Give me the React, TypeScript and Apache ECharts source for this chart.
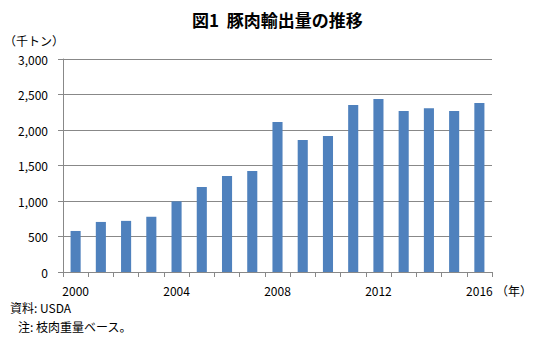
import React, { useEffect, useRef } from "react";
import * as echarts from "echarts";

const years = ["2000","2001","2002","2003","2004","2005","2006","2007","2008","2009","2010","2011","2012","2013","2014","2015","2016"];
const exportsKt = [578, 705, 720, 778, 995, 1198, 1352, 1424, 2112, 1858, 1915, 2352, 2438, 2266, 2308, 2266, 2380];
const yTicks = { min: 0, max: 3000, interval: 500 };

const FONT = "'Noto Sans CJK JP', 'Noto Sans', sans-serif";

export default function App() {
  const ref = useRef<HTMLDivElement>(null);
  useEffect(() => {
    document.body.style.margin = "0";
    const chart = echarts.init(ref.current!, null, { renderer: "svg" });
    chart.setOption({
      animation: false,
      backgroundColor: "#fff",
      textStyle: { fontFamily: FONT },
      title: {
        text: "図1\u00a0\u00a0豚肉輸出量の推移",
        left: 187,
        top: 6,
        textStyle: { fontSize: 17, fontWeight: "bold", color: "#000", fontFamily: FONT },
      },
      grid: { left: 63, right: 51, top: 59, bottom: 77 },
      xAxis: {
        type: "category",
        data: years,
        boundaryGap: true,
        axisLine: { lineStyle: { color: "#888", width: 1 } },
        axisTick: { show: true, interval: 0, length: 5, lineStyle: { color: "#888" } },
        axisLabel: { interval: 3, margin: 12, fontSize: 12, color: "#000", fontFamily: FONT },
      },
      yAxis: {
        type: "value",
        min: yTicks.min,
        max: yTicks.max,
        interval: yTicks.interval,
        axisLine: { show: true, lineStyle: { color: "#888", width: 1 } },
        axisTick: { show: true, length: 5, lineStyle: { color: "#888" } },
        splitLine: { lineStyle: { color: "#888", width: 1 } },
        axisLabel: {
          margin: 15,
          fontSize: 12,
          color: "#000",
          fontFamily: FONT,
          formatter: (v: number) => v.toLocaleString("en-US"),
        },
      },
      series: [
        {
          type: "bar",
          data: exportsKt,
          barWidth: "40%",
          itemStyle: { color: "#4F81BD" },
        },
      ],
      graphic: [
        { type: "text", left: 4, top: 34, style: { text: "（千トン）", fontSize: 12, fill: "#000", fontFamily: FONT } },
        { type: "text", left: 496, top: 284, style: { text: "（年）", fontSize: 12, fill: "#000", fontFamily: FONT } },
        { type: "text", left: 10, top: 301, style: { text: "資料: USDA", fontSize: 12, fill: "#000", fontFamily: FONT } },
        { type: "text", left: 18, top: 320, style: { text: "注: 枝肉重量ベース。", fontSize: 12, fill: "#000", fontFamily: FONT } },
      ],
    });
    return () => chart.dispose();
  }, []);
  return <div ref={ref} style={{ width: 543, height: 349 }} />;
}
